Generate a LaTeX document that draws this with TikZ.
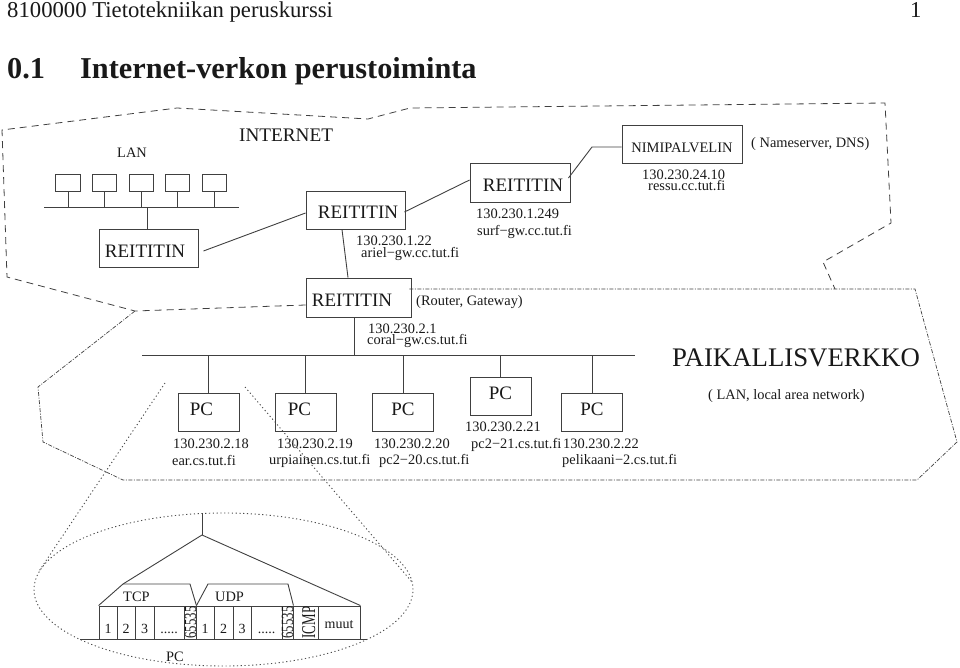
\documentclass[tikz,border=0pt]{standalone}
\usepackage{fontspec}
\usepackage{graphicx}
\setmainfont{Liberation Serif}
\usetikzlibrary{shapes.geometric, positioning, calc}
\tikzset{
    wire/.style = {draw = black!75, line width = 0.9pt},
    netedge/.style = {draw = black!75, line width = 0.8pt, dash pattern = on 7pt off 5pt},
    localedge/.style = {draw = black!75, line width = 0.7pt, dash pattern = on 4pt off 1.5pt on 1pt off 1.5pt},
    zoomedge/.style = {draw = black!70, line width = 0.9pt, dash pattern = on 1.2pt off 2.6pt},
    txt/.style = {anchor = base west, inner sep = 0pt, text = black!90, font = \fontsize{14.4}{17}\selectfont},
    bigtxt/.style = {txt, font = \fontsize{19.2}{22}\selectfont},
    routerbox/.style = {wire, inner sep = 0pt, minimum width = 99pt, minimum height = 38pt, text height = 18pt, text depth = 0pt, text = black!90, font = \fontsize{19}{22}\selectfont},
    pcbox/.style = {wire, inner sep = 0pt, minimum width = 61pt, minimum height = 38pt, text height = 13pt, text depth = 7pt, text = black!90, font = \fontsize{19}{22}\selectfont},
    hostbox/.style = {wire, inner sep = 0pt, minimum width = 24.5pt, minimum height = 17pt},
    portcell/.style = {wire, inner sep = 0pt, minimum height = 33pt, text height = 22pt, text depth = 0pt, text = black!90, font = \fontsize{14}{17}\selectfont},
    portside/.style = {wire, inner sep = 0pt, rotate = 90, minimum width = 33pt, text depth = 0pt, text = black!90}
}
\begin{document}
\begin{tikzpicture}[x = 1pt, y = -1pt]
                \useasboundingbox (0, 0) rectangle (960, 668);

                \node [txt, font = \fontsize{22.7}{26}\selectfont] (course) at (7, 17.5) { 8100000 Tietotekniikan peruskurssi };
                \node [txt, font = \fontsize{22.7}{26}\selectfont] (page) at (910, 17.5) { 1 };
                \node [txt, font = \fontsize{30.3}{34}\selectfont\bfseries] (secnum) at (7, 79) { 0.1 };
                \node [txt, font = \fontsize{30.3}{34}\selectfont\bfseries] (sectitle) at (80, 79) { Internet-verkon perustoiminta };

                \node [hostbox] (H1) at (68, 182.5) {};
                \node [hostbox] (H2) at (104.5, 182.5) {};
                \node [hostbox] (H3) at (141.5, 182.5) {};
                \node [hostbox] (H4) at (177.5, 182.5) {};
                \node [hostbox] (H5) at (214.5, 182.5) {};
                \coordinate (LANL) at (44, 207);
                \coordinate (LANR) at (239, 207);

                \node [routerbox] (Rlan) at (148.5, 248) { \hskip-7pt REITITIN };
                \node [routerbox] (Rcc) at (355.5, 210) { \hskip5pt REITITIN };
                \node [routerbox, minimum width = 100pt, minimum height = 39pt] (Rsurf) at (520, 182.5) { \hskip6pt REITITIN };
                \node [routerbox, minimum width = 105pt, minimum height = 39pt] (Rcoral) at (358.5, 297.5) { \hskip-13pt REITITIN };
                \node [routerbox, minimum width = 120pt, font = \fontsize{14.5}{17}\selectfont] (NS) at (682, 144) { NIMIPALVELIN };
                \coordinate (NSbend) at (592, 147);

                \coordinate (BUSL) at (142, 355);
                \coordinate (BUSR) at (635, 355);
                \node [pcbox] (PC1) at (208.5, 412) { \hskip-14pt PC };
                \node [pcbox] (PC2) at (305.5, 412) { \hskip-12pt PC };
                \node [pcbox] (PC3) at (403, 412) { PC };
                \node [pcbox] (PC4) at (500.5, 396) { PC };
                \node [pcbox] (PC5) at (592, 412) { PC };

                \draw [wire] (LANL) to (LANR);
                \draw [wire] (H1.south) to (H1.south |- LANL);
                \draw [wire] (H2.south) to (H2.south |- LANL);
                \draw [wire] (H3.south) to (H3.south |- LANL);
                \draw [wire] (H4.south) to (H4.south |- LANL);
                \draw [wire] (H5.south) to (H5.south |- LANL);
                \draw [wire] ([xshift = -1.5pt]Rlan.north) to ([xshift = -1.5pt]Rlan.north |- LANL);

                \draw [wire] ([xshift = 5pt, yshift = -3pt]Rlan.east) to ([yshift = -3pt]Rcc.west);
                \draw [wire] ([xshift = -1pt, yshift = -2pt]Rcc.east) to ([yshift = 2.5pt]Rsurf.west);
                \draw [wire] ([xshift = -2pt, yshift = 4.5pt]Rsurf.east) -- (NSbend) -- ([yshift = -3pt]NS.west);
                \draw [wire] ([xshift = -13.5pt]Rcc.south) to ([xshift = -10.5pt]Rcoral.north);
                \draw [wire] ([xshift = -4.5pt]Rcoral.south) to ([xshift = -4.5pt]Rcoral.south |- BUSL);

                \draw [wire] (BUSL) to (BUSR);
                \draw [wire] (PC1.north) to (PC1.north |- BUSL);
                \draw [wire] (PC2.north) to (PC2.north |- BUSL);
                \draw [wire] (PC3.north) to (PC3.north |- BUSL);
                \draw [wire] (PC4.north) to (PC4.north |- BUSL);
                \draw [wire] (PC5.north) to (PC5.north |- BUSL);

                \draw [netedge] ([yshift = -7.5pt]Rcoral.west) -- (135, 311) -- (7, 277) -- (2, 130) -- (177, 108) -- (368, 119) -- (410, 108) -- (885, 103) -- (891, 223) -- (823, 262) -- (835, 289);
                \draw [localedge] ([xshift = -2pt, yshift = 8.5pt]Rcoral.east) -- (915, 289) -- (957, 442) -- (917, 480) -- (123, 480) -- (43, 442) -- (38, 387) -- (135, 311);

                \node [bigtxt] (internet) at (239, 142) { INTERNET };
                \node [txt] (lan) at (117, 158) { LAN };
                \node [txt] (ccip) at (356, 246) { 130.230.1.22 };
                \node [txt] (ccname) at (361, 257) { ariel−gw.cc.tut.fi };
                \node [txt] (surfip) at (476, 219) { 130.230.1.249 };
                \node [txt] (surfname) at (477, 236) { surf−gw.cc.tut.fi };
                \node [txt] (nsip) at (642, 180) { 130.230.24.10 };
                \node [txt] (nsname) at (648, 191) { ressu.cc.tut.fi };
                \node [txt] (nsnote) at (751, 148) { ( Nameserver, DNS) };
                \node [txt] (gwnote) at (416, 305) { (Router, Gateway) };
                \node [txt] (coralip) at (368, 333) { 130.230.2.1 };
                \node [txt] (coralname) at (367, 344) { coral−gw.cs.tut.fi };
                \node [txt, font = \fontsize{26.8}{30}\selectfont] (localnet) at (672, 366) { PAIKALLISVERKKO };
                \node [txt] (localnote) at (708, 399) { ( LAN, local area network) };

                \node [txt] (ipa) at (173, 448) { 130.230.2.18 };
                \node [txt] (namea) at (172, 465) { ear.cs.tut.fi };
                \node [txt] (ipb) at (277, 448) { 130.230.2.19 };
                \node [txt] (nameb) at (269, 464) { urpiainen.cs.tut.fi };
                \node [txt] (ipc) at (374, 448) { 130.230.2.20 };
                \node [txt] (namec) at (379, 464) { pc2−20.cs.tut.fi };
                \node [txt] (ipd) at (465, 431) { 130.230.2.21 };
                \node [txt] (named) at (471, 448) { pc2−21.cs.tut.fi };
                \node [txt] (ipe) at (563, 448) { 130.230.2.22 };
                \node [txt] (namee) at (562, 464) { pelikaani−2.cs.tut.fi };

                \node [draw, ellipse, zoomedge, inner sep = 0pt, minimum width = 379pt, minimum height = 153pt] (PCzoom) at (223.5, 589.5) {};
                \coordinate (ZOOML) at (165, 383);
                \coordinate (ZOOMR) at (245, 387);
                \draw [zoomedge] (ZOOML) to (PCzoom.174);
                \draw [zoomedge] (ZOOMR) to (PCzoom.2);

                \node [portcell, minimum width = 18pt] (T1) at (108, 622.5) { 1 };
                \node [portcell, minimum width = 18pt] (T2) at (126, 622.5) { 2 };
                \node [portcell, minimum width = 19pt] (T3) at (144.5, 622.5) { 3 };
                \node [portcell, minimum width = 30pt] (Tdots) at (169, 622.5) { ..... };
                \node [portside, minimum height = 12pt, text height = 12pt, font = \fontsize{12.7}{15}\selectfont] (Tlast) at (190, 622.5) { \scalebox{1}[1.35]{65535} };
                \node [portcell, minimum width = 18pt] (U1) at (205, 622.5) { 1 };
                \node [portcell, minimum width = 19pt] (U2) at (223.5, 622.5) { 2 };
                \node [portcell, minimum width = 18pt] (U3) at (242, 622.5) { 3 };
                \node [portcell, minimum width = 31pt] (Udots) at (266.5, 622.5) { ..... };
                \node [portside, minimum height = 11pt, text height = 11pt, font = \fontsize{12.7}{15}\selectfont] (Ulast) at (287.5, 622.5) { \scalebox{1}[1.35]{65535} };
                \node [portside, minimum height = 25pt, text height = 19pt, font = \fontsize{13}{15}\selectfont] (ICMP) at (305.5, 622.5) { \scalebox{1}[1.5]{ICMP} };
                \node [portcell, minimum width = 42pt, text height = 11pt] (muut) at (339, 622.5) { muut };

                \coordinate (STEM) at (202, 513);
                \coordinate (APEX) at (202, 535);
                \coordinate (TCPL) at (123, 584);
                \coordinate (TCPR) at (190, 584);
                \coordinate (UDPL) at (208, 584);
                \coordinate (UDPR) at (288, 584);
                \coordinate (BASEL) at (80, 639);
                \coordinate (BASER) at (367, 639);

                \draw [wire] (STEM) to (APEX);
                \draw [wire] (APEX) -- (TCPL) -- (T1.north west);
                \draw [wire] (APEX) to (muut.north east);
                \draw [wire] (TCPL) -- (TCPR) -- (Tlast.south east);
                \draw [wire] (Tlast.south east) -- (UDPL) -- (UDPR) -- (Ulast.south east);
                \draw [wire] (BASEL) to (BASER);

                \node [txt] (tcp) at (123, 601) { TCP };
                \node [txt] (udp) at (215, 601) { UDP };
                \node [txt] (pcname) at (166, 661) { PC };
            \end{tikzpicture}
\end{document}
